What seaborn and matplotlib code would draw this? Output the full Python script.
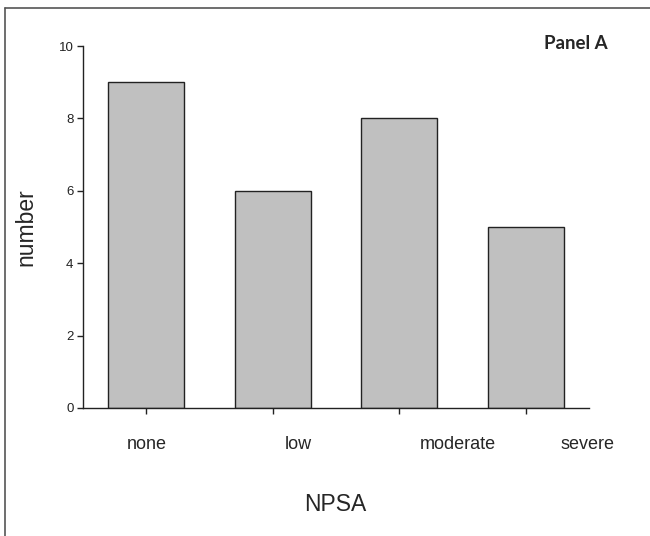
import pandas as pd
import matplotlib
matplotlib.use("Agg")
import matplotlib.pyplot as plt
from matplotlib.lines import Line2D
import seaborn as sns

# data
categories = ["none", "low", "moderate", "severe"]
counts = [9, 6, 8, 5]

# labels in the original sit a bit right of the ticks (except the first)
label_offsets = [0.0, 0.2, 0.46, 0.49]

df = pd.DataFrame({"NPSA": categories, "number": counts})

sns.set_style("ticks")
plt.rcParams["font.family"] = ["Liberation Sans", "DejaVu Sans"]

fig = plt.figure(figsize=(6.5, 5.36), dpi=100)
ax = fig.add_axes([0.128, 0.239, 0.778, 0.675])

sns.barplot(data=df, x="NPSA", y="number", color="#c0c0c0",
            edgecolor="#222222", linewidth=1.0, width=0.6, saturation=1, ax=ax)

ax.set_ylim(0, 10)
ax.set_xlim(-0.5, 3.5)
ax.set_yticks(range(0, 11, 2))
ax.tick_params(axis="y", labelsize=9.5, length=4, width=1, pad=3, colors="#222222")
ax.tick_params(axis="x", length=4, width=1, labelbottom=False, colors="#222222")
ax.set_xlabel("")
ax.set_ylabel("number", fontsize=16.5)
ax.yaxis.set_label_coords(-0.09, 0.5)
sns.despine(ax=ax)
for s in ["left", "bottom"]:
    ax.spines[s].set_linewidth(1)
    ax.spines[s].set_color("#222222")

# category labels placed below the axis
for i, (cat, off) in enumerate(zip(categories, label_offsets)):
    ax.text(i + off, -0.102, cat, transform=ax.get_xaxis_transform(),
            ha="center", va="center", fontsize=13)

fig.text(0.515, 0.058, "NPSA", ha="center", va="center", fontsize=16.5)
fig.text(0.886, 0.918, "Panel A", ha="center", va="center", fontsize=13.5,
         fontweight="bold", family=["Lato", "DejaVu Sans"])

# frame lines on the left and top of the panel
fig.lines.append(Line2D([0.007, 0.007], [0.0, 0.986], transform=fig.transFigure,
                        color="#555555", linewidth=1.2))
fig.lines.append(Line2D([0.007, 1.0], [0.986, 0.986], transform=fig.transFigure,
                        color="#555555", linewidth=1.2))

fig.savefig("out.png", dpi=100)
